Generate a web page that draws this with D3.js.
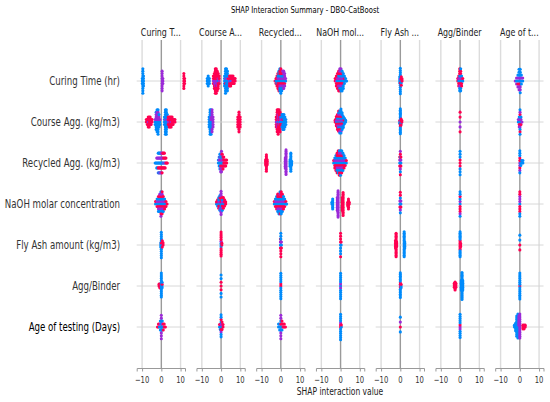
<!DOCTYPE html>
<html>
<head>
<meta charset="utf-8">
<script src="https://cdn.jsdelivr.net/npm/d3@7"></script>
<style>
body { margin: 0; background: #fff; }
svg { display: block; }
text { font-family: "DejaVu Sans", sans-serif; }
</style>
</head>
<body>
<svg id="chart" width="550" height="402"></svg>
<script>
// Feature names (rows) and truncated column titles
var features = ["Curing Time (hr)", "Course Agg. (kg/m3)", "Recycled Agg. (kg/m3)",
    "NaOH molar concentration", "Fly Ash amount (kg/m3)", "Agg/Binder", "Age of testing (Days)"];
var columnTitles = ["Curing T...", "Course A...", "Recycled...", "NaOH mol...", "Fly Ash ...", "Agg/Binder", "Age of t..."];
var xTicks = [-10, 0, 10];

// One array per row, one cell per column.
// Each cell entry: [SHAP interaction value, n low (blue), n mid (purple), n high (red)]
var curingTimeRow = [
    [[-9.9,3,0,0],[-9.6,11,0,0],[-9.3,5,0,0],[0.4,0,9,0],[0.8,0,3,0],[11.7,0,0,7],[12.1,0,0,3]],
    [[-7.2,3,0,0],[-6.7,5,0,0],[-6.1,3,0,0],[-4.0,0,1,3],[-3.5,0,2,5],[-3.0,0,3,8],[-2.5,0,2,9],[-2.0,0,3,6],[-1.5,1,1,5],[-1.0,0,1,3],
     [1.8,5,0,0],[2.3,9,1,1],[2.8,10,0,0],[3.3,8,1,0],[3.8,4,0,1],[4.4,0,1,4],[5.0,1,0,4],[5.6,0,1,3],[6.2,0,0,4],[6.8,0,0,3],[7.3,0,0,2]],
    [[-3.0,0,0,1],[-2.5,1,0,2],[-2.0,2,0,3],[-1.5,2,1,4],[-1.0,4,1,4],[-0.5,5,2,3],[0,5,2,4],[0.5,4,2,3],[1.0,3,3,2],[1.5,2,5,1],[2.0,1,4,1],[2.5,1,1,0]],
    [[-2.8,0,0,2],[-2.2,0,1,4],[-1.6,1,1,5],[-1.0,2,2,5],[-0.4,3,4,3],[0.2,4,4,2],[0.8,5,2,2],[1.4,5,1,1],[2.0,3,0,1],[2.6,2,0,0],[3.1,1,0,0]],
    [[-0.3,4,0,0],[0,11,1,1],[0.5,2,0,3],[0.9,0,0,2]],
    [[-1.2,0,0,2],[-0.7,1,1,3],[-0.2,4,2,4],[0.3,5,2,3],[0.8,2,1,2],[1.4,1,0,1]],
    [[-2.4,0,1,0],[-1.7,1,2,0],[-1.0,2,2,1],[-0.4,4,3,1],[0.2,5,3,1],[0.8,3,1,0],[1.5,1,1,0]]
];
var courseAggRow = [
    [[-7.8,0,0,2],[-7.3,0,0,3],[-6.8,0,1,4],[-6.3,0,0,5],[-5.8,0,0,4],[-5.3,0,0,3],[-4.8,0,0,2],
     [-3.2,2,1,0],[-2.7,5,3,0],[-2.2,6,4,0],[-1.7,7,4,0],[-1.2,4,2,0],[-0.8,2,1,0],
     [1.6,4,0,0],[2.1,10,1,0],[2.6,11,0,0],[3.1,5,1,0],[3.6,0,1,3],[4.1,0,1,4],[4.6,0,0,5],[5.1,0,1,4],[5.6,0,0,4],[6.1,0,0,3],[6.6,0,0,2],[7.1,0,0,2]],
    [[-6.2,5,0,0],[-5.7,11,0,0],[-5.2,9,2,0],[-4.7,3,7,0],[-4.2,0,5,0],[8.7,0,0,5],[9.3,0,0,9],[9.9,0,0,5]],
    [[-2.4,0,1,4],[-1.9,0,3,7],[-1.4,1,3,7],[-0.9,0,2,8],[-0.4,1,2,6],[0.1,2,1,3],[0.6,4,1,1],[1.1,6,0,1],[1.6,7,0,0],[2.1,5,0,0],[2.6,3,0,0]],
    [[-2.8,0,0,2],[-2.2,1,1,4],[-1.6,2,2,5],[-1.0,4,3,5],[-0.4,6,4,3],[0.2,7,4,3],[0.8,6,2,2],[1.4,5,1,1],[2.0,3,0,1],[2.6,2,0,0]],
    [[-0.3,2,0,1],[0,14,1,3],[0.4,2,0,3],[0.8,0,0,2]],
    [[0,0,2,3]],
    [[-0.8,1,1,0],[-0.3,2,2,1],[0.1,5,3,3],[0.6,2,1,1],[1.1,0,1,0]]
];
var recycledAggRow = [
    [[-3.2,1,0,0],[-2.8,1,0,0],[-2.4,2,1,0],[-2.0,2,1,0],[-1.6,3,1,1],[-1.2,2,2,1],[-0.8,3,1,1],[-0.4,2,2,1],[0,1,3,1],[0.4,1,2,2],
     [0.8,1,1,2],[1.2,0,1,3],[1.6,1,0,3],[2.0,0,1,2],[2.4,0,0,2],[2.8,0,0,1],[3.1,0,0,1]],
    [[-1.4,2,0,0],[-1.0,3,1,0],[-0.6,4,2,0],[-0.2,3,3,1],[0.2,2,5,1],[0.6,2,2,2],[1.0,1,1,3],[1.4,0,0,4],[1.9,0,0,3],[2.4,0,0,3],[2.9,0,0,2]],
    [[-7.9,0,0,4],[-7.5,0,0,11],[-7.1,0,0,4],[2.3,0,7,0],[2.7,0,16,0],[4.8,5,0,0],[5.2,12,0,0],[5.6,3,0,0]],
    [[-3.6,1,0,1],[-3.0,2,1,2],[-2.4,3,1,3],[-1.8,3,2,4],[-1.2,4,2,4],[-0.6,4,3,4],[0,5,3,3],[0.6,4,3,3],[1.2,4,2,2],[1.8,3,1,2],[2.4,2,1,1],[3.0,1,0,1]],
    [[-0.3,1,1,2],[0,3,3,3],[0.3,1,1,2]],
    [[0,0,0,3],[0,6,0,0]],
    [[0,0,2,3],[0,4,1,0],[0.5,2,0,1],[1.0,2,0,0],[1.6,2,0,0]]
];
var naohRow = [
    [[-3.0,1,0,1],[-2.2,2,1,1],[-1.5,3,2,2],[-0.8,3,3,2],[-0.2,4,4,3],[0.4,3,3,4],[1.0,3,2,2],[1.7,2,1,2],[2.4,1,0,2],[3.0,0,0,1]],
    [[-2.4,1,0,1],[-1.8,2,0,2],[-1.2,3,1,2],[-0.6,4,2,2],[0,3,0,3],[0,0,6,0],[0.6,3,2,2],[1.2,2,1,3],[1.8,1,0,3],[2.4,0,0,2]],
    [[-3.4,1,0,1],[-2.8,2,1,1],[-2.2,3,1,2],[-1.6,3,2,3],[-1.0,4,2,3],[-0.4,4,3,3],[0.2,4,2,4],[0.8,3,2,3],[1.4,3,1,2],[2.0,2,1,1],[2.6,1,0,1],[3.0,1,0,0]],
    [[-4.5,2,0,0],[-4.1,7,0,0],[-1.7,0,9,0],[-1.3,0,17,0],[0.9,0,0,9],[1.3,0,0,15],[3.7,0,0,3],[4.1,0,0,7],[4.5,0,0,2]],
    [[-0.2,1,1,1],[0,3,2,3],[0.3,1,1,1]],
    [[0,2,1,4],[0,3,1,0]],
    [[0,1,3,4],[0,2,0,1]]
];
var flyAshRow = [
    [[-0.3,3,0,0],[0,12,0,1],[0.5,1,0,3],[0.9,0,0,2]],
    [[0,3,0,0],[0,0,1,10],[0.4,0,0,2]],
    [[-0.2,1,1,2],[0,4,1,4],[0.3,1,1,1]],
    [[0,4,0,5],[0.3,1,0,1]],
    [[-2.5,0,0,6],[-2.2,0,0,17],[-1.9,0,0,4],[2.0,18,0,0],[2.3,5,0,0]],
    [[0,0,0,7],[0,11,0,0],[0.3,0,0,3]],
    [[0,0,0,1],[0,1,0,0],[0,0,0,1],[0,1,0,0]]
];
var aggBinderRow = [
    [[-1.2,0,0,2],[-0.8,0,0,3],[0,14,0,0],[0.4,3,0,1]],
    [[0,0,0,3],[0,4,0,0]],
    [[0,0,0,2],[0,11,0,0]],
    [[0,1,2,0],[0,10,0,0]],
    [[0,0,1,3],[0,12,0,0],[0.4,2,0,1]],
    [[-3.0,0,0,4],[-2.6,0,0,7],[-2.2,0,0,4],[0.6,8,0,0],[1.0,21,0,0],[1.4,8,0,0]],
    [[0,0,0,1],[0,14,0,0]]
];
var ageRow = [
    [[-2.0,0,0,1],[-1.5,0,0,2],[-1.0,1,0,1],[-0.5,3,1,0],[0,4,0,0],[0,0,5,0],[0.5,3,1,0],[1.0,1,0,2],[1.5,0,0,2],[2.1,0,0,1]],
    [[-0.8,1,0,1],[-0.4,2,0,1],[0,2,2,2],[0,4,0,0],[0.5,1,1,2],[1.0,0,0,2]],
    [[-1.2,2,0,0],[-0.6,3,0,0],[0,3,0,1],[0,0,5,0],[0.6,2,0,2],[1.2,0,0,2],[1.8,0,0,2],[2.4,0,0,1]],
    [[0,0,0,2],[0,10,1,0],[0.4,1,0,1]],
    [[0,0,0,1],[0,0,1,0],[0,2,0,0]],
    [[0,0,2,1],[0,9,0,0]],
    [[-2.8,2,0,0],[-2.2,5,0,0],[-1.6,12,0,0],[-1.0,14,0,0],[-0.5,6,6,0],[0,0,14,0],[1.6,0,0,3],[2.2,0,0,3],[2.8,0,0,2]]
];
var rows = [curingTimeRow, courseAggRow, recycledAggRow, naohRow, flyAshRow, aggBinderRow, ageRow];

var svg = d3.select("#chart");
var SX = 0.72; // text in the picture is horizontally squeezed

function addText(x, y, str, size, anchor, fill)
{
    return svg.append("text")
        .attr("transform", "translate(" + x + "," + y + ") scale(" + SX + ",1)")
        .attr("text-anchor", anchor)
        .attr("font-size", size)
        .attr("fill", fill)
        .text(str);
}

var color = d3.scaleLinear().domain([0, 0.5, 1]).range(["#008bfb", "#9b2ad8", "#ff0051"]);
var y = d3.scaleLinear().domain([0, 6]).range([81, 327]);
var plotTop = 40, plotBottom = 368;
var panelW = 48.3, panelStep = 59.75, firstLeft = 136.7;

// Beeswarm layout like shap: quantise, stack alternately, scale to row height
function layoutCell(groups)
{
    var pts = [];
    groups.forEach(function(g, gi) {
        var left = [g[1], g[2], g[3]], vals = [0, 0.5, 1];
        while (left[0] + left[1] + left[2] > 0) {
            for (var k = 0; k < 3; ++k) {
                if (left[k] > 0) { pts.push({x: g[0], v: vals[k], g: gi}); left[k]--; }
            }
        }
    });
    var mn = d3.min(pts, function(p) { return p.x; });
    var mx = d3.max(pts, function(p) { return p.x; });
    pts.forEach(function(p, i) {
        p.q = Math.round(100 * (p.x - mn) / (mx - mn + 1e-8));
        p.i = i;
    });
    pts.sort(function(a, b) { return a.q - b.q || a.i - b.i; });
    var layer = 0, last = -1;
    pts.forEach(function(p) {
        if (p.q !== last) layer = 0;
        p.ys = Math.ceil(layer / 2) * ((layer % 2) * 2 - 1);
        layer++;
        last = p.q;
    });
    var m = d3.max(pts, function(p) { return p.ys + 1; });
    pts.forEach(function(p) { p.ys *= 0.9 * (0.4 / m); });
    pts.sort(function(a, b) { return a.i - b.i; });
    return pts;
}

// Title
addText(305, 12.5, "SHAP Interaction Summary - DBO-CatBoost", 9.5, "middle", "#000");

// Row labels
features.forEach(function(f, i) {
    addText(120, y(i) + 4.3, f, 12, "end", i === features.length - 1 ? "#000" : "#333");
});

columnTitles.forEach(function(title, j) {
    var left = firstLeft + j * panelStep;
    var x = d3.scaleLinear().domain([-12.8, 12.3]).range([left, left + panelW]);
    var g = svg.append("g");

    // vertical reference lines
    xTicks.forEach(function(t) {
        g.append("line")
            .attr("x1", x(t)).attr("x2", x(t))
            .attr("y1", plotTop).attr("y2", plotBottom)
            .attr("stroke", t === 0 ? "#9a9a9a" : "#dcdcdc")
            .attr("stroke-width", 1.4);
    });
    // row lines
    features.forEach(function(f, i) {
        g.append("line")
            .attr("x1", left).attr("x2", left + panelW)
            .attr("y1", y(i)).attr("y2", y(i))
            .attr("stroke", "#d4d4d4").attr("stroke-width", 0.9);
    });

    // bottom axis
    var axis = g.append("g")
        .attr("transform", "translate(0," + plotBottom + ")")
        .call(d3.axisBottom(x).tickValues(xTicks).tickSize(3.5).tickFormat(function() { return ""; }));
    axis.select(".domain").attr("stroke", "#999").attr("stroke-width", 1);
    axis.selectAll(".tick line").attr("stroke", "#999");
    xTicks.forEach(function(t) {
        addText(x(t), 382.5, t < 0 ? "\u2212" + Math.abs(t) : String(t), 9.5, "middle", "#333");
    });

    addText(left + panelW / 2, 36, title, 11, "middle", "#222");

    // dots
    rows.forEach(function(row, i) {
        var pts = layoutCell(row[j]);
        g.append("g").selectAll("circle")
            .data(pts)
            .enter().append("circle")
            .attr("cx", function(p) { return x(p.x); })
            .attr("cy", function(p) { return y(i - p.ys); })
            .attr("r", 1.55)
            .attr("fill", function(p) { return color(p.v); });
    });
});

addText(340, 395, "SHAP interaction value", 10.5, "middle", "#222");
</script>
</body>
</html>
